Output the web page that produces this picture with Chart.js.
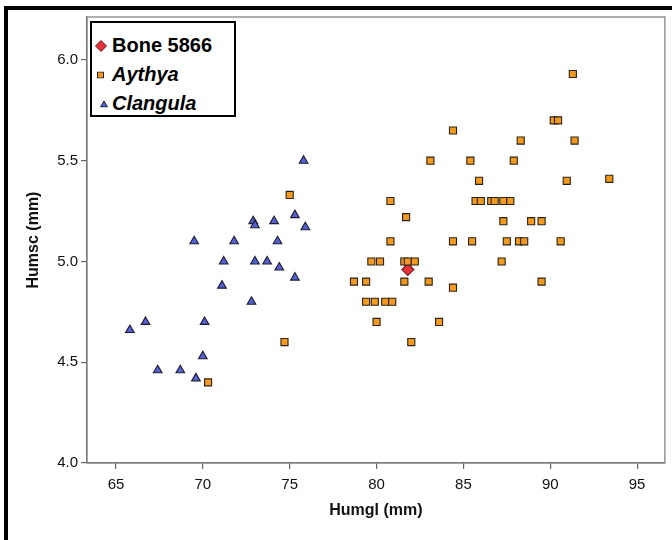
<!DOCTYPE html>
<html>
<head>
<meta charset="utf-8">
<script src="https://cdn.jsdelivr.net/npm/chart.js@4"></script>
<style>
  html, body { margin: 0; padding: 0; background: #fff; }
  #wrap { position: relative; width: 672px; height: 540px; overflow: hidden; }
  #frame { position: absolute; left: 4px; top: 6px; width: 720px; height: 600px; border: 4px solid #000; box-sizing: border-box; }
  #chart { position: absolute; left: 0; top: 0; }
  #legend { position: absolute; left: 90px; top: 21px; width: 146px; height: 96px; box-sizing: border-box;
            border: 2px solid #000; background: #fff; padding-top: 8px;
            font-family: "Liberation Sans", Arial, sans-serif; font-weight: bold; font-size: 20px; color: #000; }
  .lg-row { height: 29px; line-height: 29px; white-space: nowrap; display: flex; align-items: center; }
  .lg-mark { width: 20px; height: 29px; flex: none; position: relative; }
  .lg-mark svg { position: absolute; top: 50%; transform: translateY(-50%); }
  .it { font-style: italic; }
</style>
</head>
<body>
<div id="wrap">
  <div id="frame"></div>
  <canvas id="chart" width="672" height="540"></canvas>
  <div id="legend"></div>
</div>
<script>
// Humgl vs Humsc scatter — Aythya / Clangula reference groups + Bone 5866.
var xTicks = [65, 70, 75, 80, 85, 90, 95];
var yTicks = [4.0, 4.5, 5.0, 5.5, 6.0];

var boneX = [81.8];
var boneY = [4.96];

var aythyaX = [75.0, 74.7, 70.3,
  91.3, 90.2, 90.45, 84.4, 88.3, 91.4,
  83.1, 85.4, 87.9, 85.9, 90.95, 93.4,
  80.8, 85.7, 86.0, 86.6, 86.8, 87.3, 87.7,
  81.7,
  87.3, 88.9, 89.5,
  80.8, 84.4, 85.5, 87.5, 88.2, 88.5, 90.6,
  79.7, 80.2, 81.6, 81.8, 82.2, 87.2,
  78.7, 79.4, 81.6, 83.0, 89.5,
  84.4,
  79.4, 79.9, 80.5, 80.9,
  80.0, 83.6,
  82.0];
var aythyaY = [5.33, 4.60, 4.40,
  5.93, 5.70, 5.70, 5.65, 5.60, 5.60,
  5.50, 5.50, 5.50, 5.40, 5.40, 5.41,
  5.30, 5.30, 5.30, 5.30, 5.30, 5.30, 5.30,
  5.22,
  5.20, 5.20, 5.20,
  5.10, 5.10, 5.10, 5.10, 5.10, 5.10, 5.10,
  5.00, 5.00, 5.00, 5.00, 5.00, 5.00,
  4.90, 4.90, 4.90, 4.90, 4.90,
  4.87,
  4.80, 4.80, 4.80, 4.80,
  4.70, 4.70,
  4.60];

var clangulaX = [75.8, 75.3, 72.9, 73.0, 74.1, 75.9, 69.5, 71.8, 74.3, 71.2, 73.0, 73.7,
  74.4, 75.3, 71.1, 72.8, 66.7, 65.8, 70.1, 70.0, 67.4, 68.7, 69.6];
var clangulaY = [5.50, 5.23, 5.20, 5.18, 5.20, 5.17, 5.10, 5.10, 5.10, 5.00, 5.00, 5.00,
  4.97, 4.92, 4.88, 4.80, 4.70, 4.66, 4.70, 4.53, 4.46, 4.46, 4.42];

var series = [
  { name: 'Bone 5866', italic: false, xs: boneX, ys: boneY, style: 'rectRot', r: 6, fill: '#E8323A', line: '#6b1418' },
  { name: 'Aythya', italic: true, xs: aythyaX, ys: aythyaY, style: 'rect', r: 5, fill: '#F39A1E', line: '#2a2218' },
  { name: 'Clangula', italic: true, xs: clangulaX, ys: clangulaY, style: 'triangle', r: 5, fill: '#5460D6', line: '#1c1c2e' }
];

function pts(xs, ys) {
  return xs.map(function (x, i) { return { x: x, y: ys[i] }; });
}

// plot frame (SPSS style grey box round the data region)
var framePlugin = {
  id: 'frame',
  afterDraw: function (chart) {
    var a = chart.chartArea, ctx = chart.ctx;
    ctx.save();
    ctx.strokeStyle = '#7a7a7a';
    ctx.lineWidth = 1.2;
    ctx.strokeRect(a.left, a.top, a.right - a.left, a.bottom - a.top);
    ctx.restore();
  }
};

var font = 'Liberation Sans, Arial, sans-serif';
var datasets = series.slice().reverse().map(function (s) {
  return {
    label: s.name,
    data: pts(s.xs, s.ys),
    pointStyle: s.style,
    pointRadius: s.r,
    pointHoverRadius: s.r,
    backgroundColor: s.fill,
    borderColor: s.line,
    borderWidth: 1.1
  };
});

new Chart(document.getElementById('chart'), {
  type: 'scatter',
  data: { datasets: datasets },
  plugins: [framePlugin],
  options: {
    responsive: false,
    animation: false,
    events: [],
    layout: { padding: { top: 17, right: 7, left: 0, bottom: 0 } },
    plugins: { legend: { display: false }, tooltip: { enabled: false } },
    scales: {
      x: {
        type: 'linear', min: 63.33, max: 96.6,
        afterBuildTicks: function (s) { s.ticks = xTicks.map(function (v) { return { value: v }; }); },
        afterFit: function (s) { s.height = 77; },
        grid: { display: true, drawOnChartArea: false, drawTicks: true, tickLength: 6, color: '#666', lineWidth: 1.2 },
        border: { display: true, color: '#7a7a7a', width: 1.2 },
        ticks: { color: '#111', font: { family: font, size: 15 }, padding: 7, maxRotation: 0 },
        title: { display: true, text: 'Humgl (mm)', color: '#111', font: { family: font, size: 16, weight: 'bold' }, padding: { top: 0, bottom: 20 } }
      },
      y: {
        type: 'linear', min: 4.0, max: 6.213,
        afterBuildTicks: function (s) { s.ticks = yTicks.map(function (v) { return { value: v }; }); },
        afterFit: function (s) { s.width = 87; },
        grid: { display: true, drawOnChartArea: false, drawTicks: true, tickLength: 6, color: '#666', lineWidth: 1.2 },
        border: { display: true, color: '#7a7a7a', width: 1.2 },
        ticks: { color: '#111', font: { family: font, size: 15 }, padding: 3,
                 callback: function (v) { return v.toFixed(1); } },
        title: { display: true, text: 'Humsc (mm)', color: '#111', font: { family: font, size: 16, weight: 'bold' }, padding: { top: 24, bottom: 0 } }
      }
    }
  }
});

// legend box, built from the series list
function markerSvg(s) {
  var shape;
  if (s.style === 'rectRot') {
    shape = '<polygon points="6,0.5 11.5,6 6,11.5 0.5,6" fill="' + s.fill + '" stroke="' + s.line + '" stroke-width="1"/>';
    return '<svg width="12" height="12" style="left:3px">' + shape + '</svg>';
  }
  if (s.style === 'rect') {
    shape = '<rect x="0.5" y="0.5" width="6" height="6" fill="' + s.fill + '" stroke="' + s.line + '" stroke-width="1"/>';
    return '<svg width="7" height="7" style="left:5px">' + shape + '</svg>';
  }
  shape = '<polygon points="4,0.5 7.5,6.5 0.5,6.5" fill="' + s.fill + '" stroke="' + s.line + '" stroke-width="1"/>';
  return '<svg width="8" height="7" style="left:8px">' + shape + '</svg>';
}

var lg = document.getElementById('legend');
series.forEach(function (s) {
  var row = document.createElement('div');
  row.className = 'lg-row';
  row.innerHTML = '<span class="lg-mark">' + markerSvg(s) + '</span>'
    + '<span class="' + (s.italic ? 'it' : '') + '">' + s.name + '</span>';
  lg.appendChild(row);
});
</script>
</body>
</html>
